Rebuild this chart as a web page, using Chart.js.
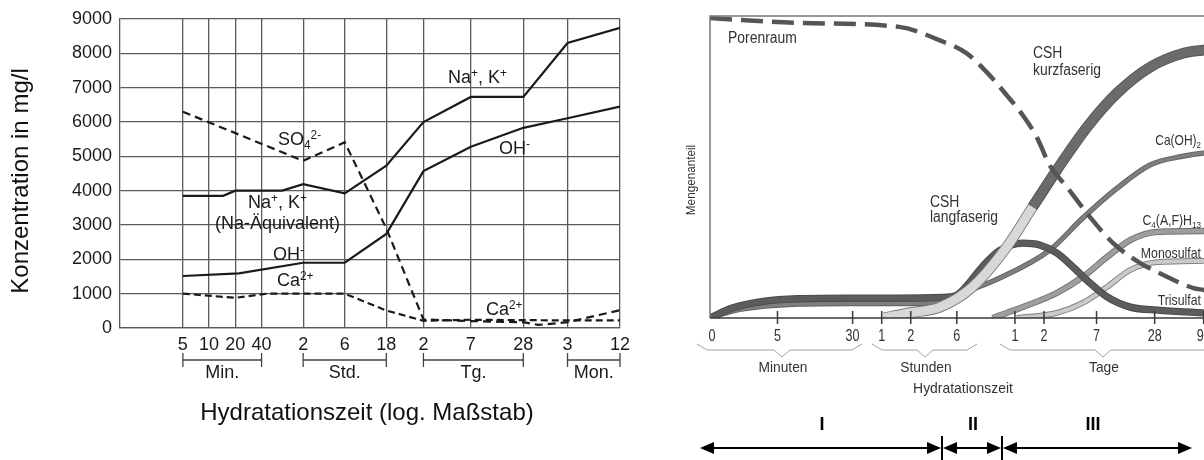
<!DOCTYPE html>
<html lang="de">
<head>
<meta charset="UTF-8">
<title>Hydratation von Zement</title>
<script src="https://cdn.jsdelivr.net/npm/chart.js"></script>
<style>
    html, body {
        margin: 0;
        padding: 0;
        background: #fff;
        overflow: hidden;
    }
    body {
        width: 1204px;
        height: 460px;
        position: relative;
    }
    canvas {
        position: absolute;
        left: 0;
        top: 0;
    }
</style>
</head>
<body>
<canvas id="ionChart" width="680" height="460"></canvas>
<canvas id="phaseChart" width="1260" height="460"></canvas>

<script>
// ---------- left chart: ions in the pore solution (time in minutes, log axis) ----------
const ionTickMin = [5, 10, 20, 40, 120, 360, 1080, 2880, 10080, 40320, 129600, 518400];
const ionTickLabels = ['5', '10', '20', '40', '2', '6', '18', '2', '7', '28', '3', '12'];
const ionGroups = ['Min.', 'Std.', 'Tg.', 'Mon.'];
const ionGroupSpan = [[5, 40], [120, 1080], [2880, 40320], [129600, 518400]];

const naKTime = [5, 14.5, 20, 69, 120, 360, 1080, 2880, 10080, 40320, 129600, 518400];
const naKConc = [3850, 3850, 4000, 4000, 4190, 3920, 4730, 6000, 6730, 6730, 8300, 8740];
const ohTime = [5, 22, 120, 360, 1080, 2880, 10080, 40320, 129600, 518400];
const ohConc = [1515, 1590, 1900, 1900, 2740, 4570, 5280, 5830, 6110, 6450];
const so4Time = [5, 120, 360, 1080, 2880, 10080, 40320, 60000, 129600, 518400];
const so4Conc = [6300, 4870, 5410, 2900, 250, 200, 170, 90, 170, 520];
const caTime = [5, 20, 46, 360, 1080, 2880, 10080, 40320, 129600, 518400];
const caConc = [1000, 880, 1000, 1000, 510, 210, 240, 230, 220, 220];

// ---------- right chart: phases during hydration (time in minutes, log axis, "0" = 1 min) ----------
const phaseTickMin = [1, 5, 30, 60, 120, 360, 1440, 2880, 10080, 40320, 129600];
const phaseTickLabels = ['0', '5', '30', '1', '2', '6', '1', '2', '7', '28', '90'];

const poreTime = [1, 8.3, 91, 237, 452, 730, 1183, 1730, 2420, 3305, 4970, 8630, 14970, 28600, 54600, 101800, 129500, 170000];
const poreShare = [99.3, 97.7, 96.4, 92, 87.7, 81.5, 73.8, 67.2, 59.9, 50.5, 43.4, 33.4, 24.8, 18.2, 13.6, 9.9, 9.3, 8.6];

const cshLongTime = [63, 115, 237, 524, 1183, 2198, 3910];
const cshLongShare = [0, 1.7, 3.5, 10.3, 23.5, 36.8, 49];
const cshShortTime = [2198, 3910, 8040, 16480, 36300, 80200, 129500, 170000];
const cshShortShare = [36.8, 49, 63.2, 74.5, 83.1, 87.7, 88.7, 89];

const triTime = [1, 1.7, 3.7, 8.3, 27, 91, 250, 356, 452, 663, 996, 1730, 2600, 3910, 5740, 8630, 12970, 22540, 43050, 129500, 170000];
const triShare = [0, 3.3, 5.6, 6.4, 6.6, 6.6, 6.8, 7.5, 10.5, 17, 22.3, 24.8, 24.2, 21.5, 16.9, 11.6, 7.0, 3.6, 2.6, 1.7, 1.5];

const chTime = [1, 1.7, 3.7, 8.3, 27, 91, 237, 524, 996, 3305, 7260, 16480, 36300, 80200, 129500, 170000];
const chShare = [0, 2.3, 3.9, 4.6, 4.8, 4.8, 5.3, 9.5, 13.2, 22.5, 33.1, 43, 50.7, 53.6, 54.6, 54.8];

const afhTime = [844, 1730, 3910, 7260, 12970, 22540, 43050, 129500, 170000];
const afhShare = [0, 3.6, 8.3, 13.6, 20.2, 25.8, 28.5, 28.8, 28.8];

const monoTime = [1500, 3910, 7260, 12970, 22540, 43050, 129500, 170000];
const monoShare = [0, 1.7, 5.0, 10.3, 15.9, 18.5, 18.9, 19];

const FONT = '"Liberation Sans", Arial, sans-serif';
Chart.defaults.font.family = FONT;

const pts = (t, v) => t.map((x, i) => ({ x: x, y: v[i] }));

// text with super/subscripts, optional horizontal squeeze (sx) for the condensed labels
function richText(ctx, parts, x, y, o) {
    const size = o.size;
    const sx = o.sx || 1;
    const small = size * 0.66;
    ctx.save();
    ctx.fillStyle = o.color || '#1a1a1a';
    ctx.textBaseline = 'alphabetic';
    ctx.textAlign = 'left';
    let w = 0;
    const runs = parts.map(p => {
        const txt = Array.isArray(p) ? p[0] : p;
        const mode = Array.isArray(p) ? p[1] : 0;
        const fs = mode ? small : size;
        ctx.font = (o.weight || 'normal') + ' ' + fs + 'px ' + FONT;
        const rw = ctx.measureText(txt).width * sx;
        const r = { txt, mode, fs, x: w };
        w += rw;
        return r;
    });
    let x0 = x;
    if (o.align === 'center') x0 = x - w / 2;
    else if (o.align === 'right') x0 = x - w;
    runs.forEach(r => {
        ctx.font = (o.weight || 'normal') + ' ' + r.fs + 'px ' + FONT;
        const dy = r.mode === 1 ? -size * 0.36 : (r.mode === -1 ? size * 0.2 : 0);
        ctx.save();
        ctx.translate(x0 + r.x, y + dy);
        ctx.scale(sx, 1);
        ctx.fillText(r.txt, 0, 0);
        ctx.restore();
    });
    ctx.restore();
}

function rotatedText(ctx, parts, x, y, o) {
    ctx.save();
    ctx.translate(x, y);
    ctx.rotate(-Math.PI / 2);
    richText(ctx, parts, 0, 0, Object.assign({ align: 'center' }, o));
    ctx.restore();
}

// ---------- left chart ----------
const ionLabels = [
    { parts: ['SO', ['4', -1], ['2-', 1]], x: 278, y: 145 },
    { parts: ['Na', ['+', 1], ', K', ['+', 1]], x: 248, y: 208 },
    { parts: ['(Na-Äquivalent)'], x: 215, y: 229 },
    { parts: ['OH', ['-', 1]], x: 273, y: 260 },
    { parts: ['Ca', ['2+', 1]], x: 277, y: 286 },
    { parts: ['Na', ['+', 1], ', K', ['+', 1]], x: 448, y: 83 },
    { parts: ['OH', ['-', 1]], x: 499, y: 154 },
    { parts: ['Ca', ['2+', 1]], x: 486, y: 315 }
];

const ionDecor = {
    id: 'ionDecor',
    afterDraw(chart) {
        const { ctx, scales: { x } } = chart;
        ctx.save();
        // unit brackets under the tick labels
        ctx.strokeStyle = '#444';
        ctx.lineWidth = 1.3;
        ionGroupSpan.forEach((span, i) => {
            const x1 = x.getPixelForValue(span[0]);
            const x2 = x.getPixelForValue(span[1]);
            const yb = 360;
            ctx.beginPath();
            ctx.moveTo(x1, yb); ctx.lineTo(x2, yb);
            ctx.moveTo(x1, yb - 7); ctx.lineTo(x1, yb + 7);
            ctx.moveTo(x2, yb - 7); ctx.lineTo(x2, yb + 7);
            ctx.stroke();
            richText(ctx, [ionGroups[i]], (x1 + x2) / 2, 378, { size: 18, align: 'center' });
        });
        ctx.restore();

        richText(ctx, ['Hydratationszeit (log. Maßstab)'], 367, 420, { size: 24, align: 'center', color: '#111' });
        rotatedText(ctx, ['Konzentration in mg/l'], 28, 181, { size: 24, color: '#111' });

        ionLabels.forEach(l => richText(ctx, l.parts, l.x, l.y, { size: 18 }));
    }
};

const lineBase = { pointRadius: 0, tension: 0, borderColor: '#1a1a1a', borderWidth: 2.2, fill: false };

new Chart(document.getElementById('ionChart'), {
    type: 'line',
    data: {
        datasets: [
            Object.assign({ label: 'Na+, K+', data: pts(naKTime, naKConc) }, lineBase),
            Object.assign({ label: 'OH-', data: pts(ohTime, ohConc) }, lineBase),
            Object.assign({ label: 'SO4 2-', data: pts(so4Time, so4Conc), borderDash: [8, 5] }, lineBase),
            Object.assign({ label: 'Ca2+', data: pts(caTime, caConc), borderDash: [7, 4] }, lineBase)
        ]
    },
    options: {
        responsive: false,
        animation: false,
        layout: { padding: { top: 19, right: 60, left: 0, bottom: 0 } },
        plugins: { legend: { display: false }, tooltip: { enabled: false } },
        scales: {
            x: {
                type: 'logarithmic',
                min: 0.95,
                max: 518400,
                bounds: 'data',
                afterBuildTicks: s => { s.ticks = ionTickMin.map(v => ({ value: v })); },
                afterFit: s => { s.height = 132; },
                grid: { color: '#5a5a5a', lineWidth: 1.3, drawTicks: false },
                border: { color: '#5a5a5a', width: 1.3 },
                ticks: {
                    autoSkip: false,
                    maxRotation: 0,
                    padding: 6,
                    color: '#1a1a1a',
                    font: { size: 18 },
                    callback: (v, i) => ionTickLabels[i]
                }
            },
            y: {
                min: 0,
                max: 9000,
                afterFit: s => { s.width = 120; },
                grid: { color: '#5a5a5a', lineWidth: 1.3, drawTicks: false },
                border: { color: '#5a5a5a', width: 1.3 },
                ticks: { stepSize: 1000, padding: 8, color: '#1a1a1a', font: { size: 18 }, callback: v => String(v) }
            }
        }
    },
    plugins: [ionDecor]
});

// ---------- right chart ----------
const phaseLabels = [
    { parts: ['Porenraum'], x: 728, y: 43, size: 16, sx: 0.87 },
    { parts: ['CSH'], x: 1033, y: 58, size: 16, sx: 0.87 },
    { parts: ['kurzfaserig'], x: 1033, y: 75, size: 16, sx: 0.87 },
    { parts: ['CSH'], x: 930, y: 207, size: 16, sx: 0.87 },
    { parts: ['langfaserig'], x: 930, y: 222, size: 16, sx: 0.87 },
    { parts: ['Ca(OH)', ['2', -1]], x: 1201, y: 145, size: 15, sx: 0.8, align: 'right' },
    { parts: ['C', ['4', -1], '(A,F)H', ['13', -1]], x: 1201, y: 225, size: 15, sx: 0.82, align: 'right' },
    { parts: ['Monosulfat'], x: 1201, y: 258, size: 15, sx: 0.82, align: 'right' },
    { parts: ['Trisulfat'], x: 1201, y: 305, size: 15, sx: 0.82, align: 'right' }
];
const phaseBraces = [[697, 862, 782], [872, 977, 925], [1000, 1230, 1103]];
const phaseBraceText = ['Minuten', 'Stunden', 'Tage'];
const phaseStages = ['I', 'II', 'III'];
const stageSpan = [[700, 942], [942, 1002], [1002, 1192]];

function arrowHead(ctx, tipX, y, dir) {
    ctx.beginPath();
    ctx.moveTo(tipX, y);
    ctx.lineTo(tipX - dir * 14, y - 6);
    ctx.lineTo(tipX - dir * 14, y + 6);
    ctx.closePath();
    ctx.fill();
}

const phaseDecor = {
    id: 'phaseDecor',
    afterDatasetsDraw(chart) {
        const { ctx, chartArea: a, scales: { x } } = chart;
        ctx.save();
        ctx.lineWidth = 1.5;
        ctx.strokeStyle = '#777';
        ctx.beginPath();
        ctx.moveTo(a.left, a.bottom); ctx.lineTo(a.left, a.top); ctx.lineTo(a.right, a.top);
        ctx.stroke();
        ctx.strokeStyle = '#3a3a3a';
        ctx.beginPath();
        ctx.moveTo(a.left, a.bottom); ctx.lineTo(a.right, a.bottom);
        phaseTickMin.forEach((v, i) => {
            if (i === 0) return;
            const px = x.getPixelForValue(v);
            ctx.moveTo(px, a.bottom - 7); ctx.lineTo(px, a.bottom + 6);
        });
        ctx.stroke();
        phaseTickMin.forEach((v, i) => {
            const px = x.getPixelForValue(v) + (i === 0 ? 2 : 0);
            richText(ctx, [phaseTickLabels[i]], px, a.bottom + 23, { size: 17, sx: 0.74, align: 'center', color: '#333' });
        });

        // braces
        ctx.strokeStyle = '#a0a0a0';
        ctx.lineWidth = 1;
        phaseBraces.forEach((b, i) => {
            const y0 = 344;
            ctx.beginPath();
            ctx.moveTo(b[0], y0);
            ctx.lineTo(b[0] + 10, y0 + 6);
            ctx.lineTo(b[2] - 8, y0 + 6);
            ctx.lineTo(b[2], y0 + 13);
            ctx.lineTo(b[2] + 8, y0 + 6);
            ctx.lineTo(b[1] - 10, y0 + 6);
            ctx.lineTo(b[1], y0);
            ctx.stroke();
            richText(ctx, [phaseBraceText[i]], b[2] + 1, 372, { size: 14.5, sx: 0.95, align: 'center', color: '#333' });
        });
        richText(ctx, ['Hydratationszeit'], 963, 393, { size: 14.5, sx: 0.96, align: 'center', color: '#333' });
        rotatedText(ctx, ['Mengenanteil'], 695, 180, { size: 13, sx: 0.9, color: '#333' });

        phaseLabels.forEach(l => richText(ctx, l.parts, l.x, l.y, { size: l.size, sx: l.sx, align: l.align, color: '#333' }));

        // stage arrows
        ctx.strokeStyle = '#000';
        ctx.fillStyle = '#000';
        ctx.lineWidth = 2;
        const ya = 448;
        stageSpan.forEach((s, i) => {
            ctx.beginPath();
            ctx.moveTo(s[0] + 4, ya); ctx.lineTo(s[1] - 4, ya);
            ctx.stroke();
            arrowHead(ctx, s[0] + (i === 0 ? 0 : 1), ya, -1);
            arrowHead(ctx, s[1] - (i === 2 ? 0 : 1), ya, 1);
            richText(ctx, [phaseStages[i]], i === 0 ? 822 : (i === 1 ? 973 : 1093), 430, { size: 18, weight: 'bold', align: 'center', color: '#000' });
        });
        ctx.beginPath();
        ctx.moveTo(942, 436); ctx.lineTo(942, 460);
        ctx.moveTo(1002, 436); ctx.lineTo(1002, 460);
        ctx.stroke();
        ctx.restore();
    }
};

function ribbon(label, t, v, fill, edge, w, order) {
    const data = pts(t, v);
    const base = { pointRadius: 0, cubicInterpolationMode: 'monotone', fill: false, clip: 0 };
    return [
        Object.assign({ label: label, data: data, borderColor: fill, borderWidth: w, order: order }, base),
        Object.assign({ label: label + ' Rand', data: data, borderColor: edge, borderWidth: w + 1.8, order: order + 0.5 }, base)
    ];
}

new Chart(document.getElementById('phaseChart'), {
    type: 'line',
    data: {
        datasets: [
            { label: 'Porenraum', data: pts(poreTime, poreShare), borderColor: '#555', borderWidth: 4.5, borderDash: [22, 9],
              pointRadius: 0, cubicInterpolationMode: 'monotone', fill: false, clip: 0, order: 0 },
            ...ribbon('CSH kurzfaserig', cshShortTime, cshShortShare, '#6b6b6b', '#555', 9, 1),
            ...ribbon('CSH langfaserig', cshLongTime, cshLongShare, '#d8d8d8', '#7a7a7a', 9, 2),
            ...ribbon('Trisulfat', triTime, triShare, '#5c5c5c', '#4a4a4a', 5.5, 3),
            ...ribbon('Ca(OH)2', chTime, chShare, '#7e7e7e', '#606060', 3.5, 4),
            ...ribbon('C4(A,F)H13', afhTime, afhShare, '#9e9e9e', '#707070', 4.5, 5),
            ...ribbon('Monosulfat', monoTime, monoShare, '#cacaca', '#808080', 4, 6)
        ]
    },
    options: {
        responsive: false,
        animation: false,
        layout: { padding: { left: 710, top: 16, right: 45, bottom: 142 } },
        plugins: { legend: { display: false }, tooltip: { enabled: false } },
        scales: {
            x: { type: 'logarithmic', min: 1, max: 170000, bounds: 'data', display: false },
            y: { min: 0, max: 100, display: false }
        }
    },
    plugins: [phaseDecor]
});
</script>
</body>
</html>
